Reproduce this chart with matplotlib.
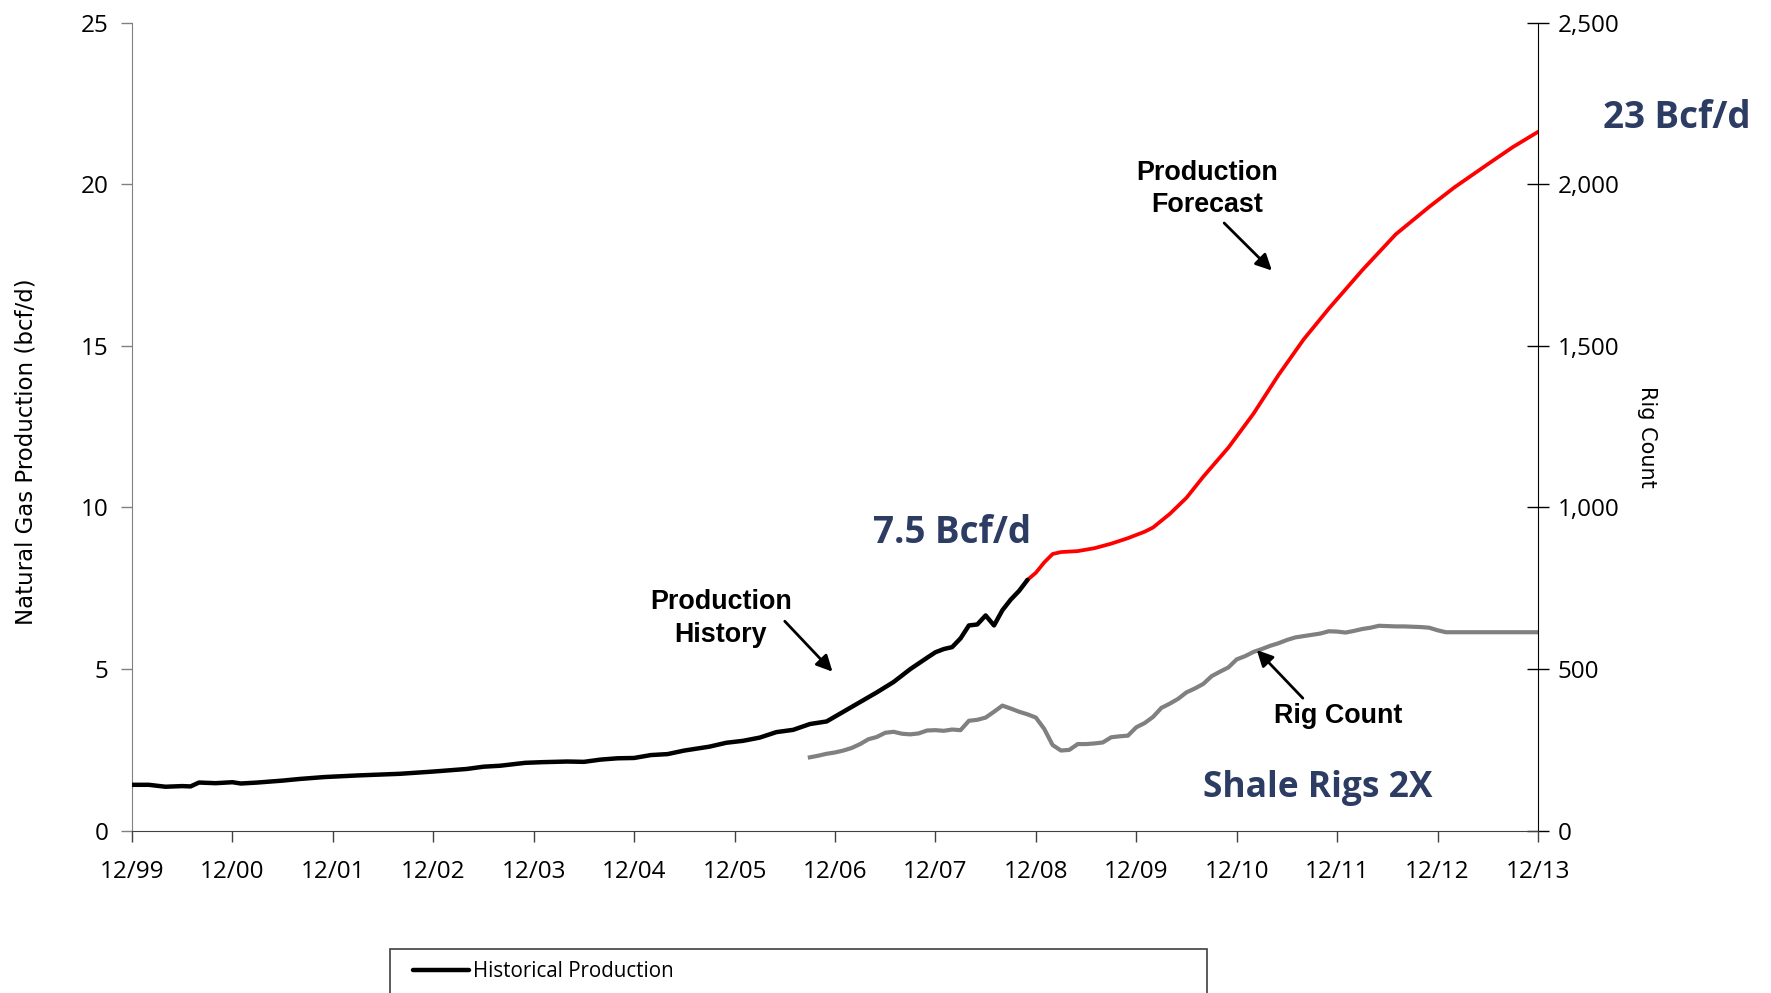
import matplotlib
matplotlib.use("Agg")
import matplotlib.pyplot as plt
from matplotlib.patches import Rectangle

# Months counted from December 1999
hist_month = [0, 2, 4, 6, 7, 8, 10, 12, 13, 15, 18, 20, 23, 27, 32, 36, 40, 42, 44,
              47, 49, 52, 54, 56, 58, 60, 62, 64, 66, 68, 69, 71, 73, 75, 77, 79,
              81, 83, 85, 87, 89, 91, 93, 95, 96, 97, 98, 99, 100, 101, 102, 103,
              104, 105, 106, 107]
hist_bcfd = [1.42, 1.42, 1.36, 1.38, 1.37, 1.49, 1.47, 1.50, 1.46, 1.49, 1.55, 1.60,
             1.66, 1.71, 1.76, 1.83, 1.91, 1.98, 2.01, 2.10, 2.12, 2.14, 2.13, 2.20,
             2.24, 2.25, 2.34, 2.37, 2.48, 2.56, 2.60, 2.72, 2.78, 2.88, 3.05, 3.12,
             3.30, 3.38, 3.68, 3.98, 4.28, 4.60, 5.00, 5.35, 5.52, 5.62, 5.68, 5.95,
             6.35, 6.38, 6.66, 6.35, 6.82, 7.15, 7.42, 7.76]

fcst_month = [107, 108, 109, 110, 111, 113, 115, 117, 119, 121, 122, 124, 126, 128,
              131, 134, 137, 140, 143, 147, 151, 155, 158, 162, 165, 168]
fcst_bcfd = [7.76, 7.98, 8.30, 8.56, 8.62, 8.65, 8.74, 8.88, 9.05, 9.25, 9.38, 9.80,
             10.30, 10.95, 11.85, 12.90, 14.10, 15.20, 16.15, 17.34, 18.45, 19.30,
             19.90, 20.62, 21.15, 21.62]

rig_month = [81, 82, 83, 84, 85, 86, 87, 88, 89, 90, 91, 92, 93, 94, 95, 96, 97, 98,
             99, 100, 101, 102, 103, 104, 105, 106, 107, 108, 109, 110, 111, 112, 113,
             114, 115, 116, 117, 118, 119, 120, 121, 122, 123, 124, 125, 126, 127, 128,
             129, 130, 131, 132, 133, 134, 135, 136, 137, 138, 139, 140, 141, 142, 143,
             144, 145, 146, 147, 148, 149, 150, 151, 152, 153, 154, 155, 156, 157, 168]
rig_count = [227, 232, 238, 242, 248, 256, 268, 283, 290, 303, 306, 300, 298, 301, 310,
             311, 309, 313, 311, 340, 343, 350, 368, 387, 378, 368, 360, 350, 315, 265,
             248, 250, 268, 268, 270, 273, 289, 292, 294, 320, 333, 352, 380, 393, 408,
             428, 440, 454, 478, 492, 505, 530, 540, 553, 562, 572, 580, 590, 598, 602,
             606, 610, 617, 616, 613, 618, 624, 628, 634, 633, 632, 632, 631, 630, 628,
             620, 614, 614]

tick_month = list(range(0, 169, 12))
tick_label = ["12/99", "12/00", "12/01", "12/02", "12/03", "12/04", "12/05",
              "12/06", "12/07", "12/08", "12/09", "12/10", "12/11", "12/12", "12/13"]

W, H = 1771, 993
fig = plt.figure(figsize=(W / 100, H / 100), dpi=100)
fig.patch.set_facecolor("white")

left, right, top, bottom = 132, 1538, 22.6, 830.7
ax = fig.add_axes([left / W, 1 - bottom / H, (right - left) / W, (bottom - top) / H])
ax2 = ax.twinx()

tick_font = dict(family="Open Sans", size=17.5)
navy = "#2C3C62"

ax2.plot(rig_month, rig_count, color="#808080", lw=3.0, solid_joinstyle="round")
ax.plot(fcst_month, fcst_bcfd, color="#FF0000", lw=2.7, solid_joinstyle="round", zorder=3)
hist_line, = ax.plot(hist_month, hist_bcfd, color="black", lw=3.2,
                     solid_joinstyle="round", solid_capstyle="round", zorder=4)
ax.set_zorder(ax2.get_zorder() + 1)
ax.patch.set_visible(False)

ax.set_xlim(0, 168)
ax.set_ylim(0, 25)
ax2.set_ylim(0, 2500)
ax.set_xticks(tick_month)
ax.set_xticklabels(tick_label, fontdict=tick_font)
ax.set_yticks(range(0, 26, 5))
ax.set_yticklabels([str(v) for v in range(0, 26, 5)], fontdict=tick_font)
ax2.set_yticks(range(0, 2501, 500))
ax2.set_yticklabels([f"{v:,}" for v in range(0, 2501, 500)], fontdict=tick_font)

ax.tick_params(axis="x", direction="out", length=8, width=1, color="#404040", pad=13)
ax.tick_params(axis="y", direction="out", length=8, width=1, color="#808080", pad=9)
ax2.tick_params(axis="y", direction="inout", length=16, width=1, color="black", pad=6)

for a in (ax, ax2):
    a.spines["top"].set_visible(False)
ax.spines["right"].set_visible(False)
ax.spines["left"].set_color("#808080")
ax.spines["bottom"].set_color("#404040")
ax2.spines["left"].set_visible(False)
ax2.spines["bottom"].set_visible(False)
ax2.spines["right"].set_color("black")

fig.text(26 / W, 1 - 451.5 / H, "Natural Gas Production (bcf/d)", rotation=90,
         ha="center", va="center", family="DejaVu Sans", size=16.5)
fig.text(1647 / W, 1 - 436.7 / H, "Rig Count", rotation=270,
         ha="center", va="center", family="DejaVu Sans", size=15)

# Callouts
lbl = dict(family="Liberation Sans", weight="bold", size=19.4, ha="center", va="baseline")
ax.text(70.35, 6.85, "Production", **lbl)
ax.text(70.35, 5.85, "History", **lbl)
ax.text(128.5, 20.13, "Production", **lbl)
ax.text(128.5, 19.15, "Forecast", **lbl)
ax.text(144.1, 3.32, "Rig Count", **lbl)

arrow = dict(arrowstyle="-|>", color="black", lw=2, mutation_scale=24,
             shrinkA=0, shrinkB=0)
ax.annotate("", xy=(83.7, 4.92), xytext=(78.0, 6.48), arrowprops=arrow)
ax.annotate("", xy=(136.2, 17.33), xytext=(130.5, 18.8), arrowprops=arrow)
ax.annotate("", xy=(134.4, 5.59), xytext=(139.9, 4.10), arrowprops=arrow)

big = dict(family="Open Sans", weight="bold", color=navy,
           ha="center", va="baseline", clip_on=False)
ax.text(97.95, 8.90, "7.5 Bcf/d", size=26.5, **big)
ax.text(184.6, 21.73, "23 Bcf/d", size=26.5, **big)
ax.text(141.66, 1.05, "Shale Rigs 2X", size=25.5, **big)

# Legend frame runs off the bottom edge of the figure
fig.patches.append(Rectangle((390 / W, -0.05), (1207 - 390) / W, 0.05 + 1 - 949 / H,
                             transform=fig.transFigure, fill=False,
                             edgecolor="#404040", lw=1.2))
fig.legend([hist_line], ["Historical Production"], loc="center left",
           bbox_to_anchor=(413 / W, 1 - 971.7 / H), frameon=False, borderpad=0,
           borderaxespad=0, handlelength=2.7, handletextpad=0.22,
           prop=dict(family="Open Sans", size=14.8))

fig.savefig("out.png", dpi=100, facecolor="white")
